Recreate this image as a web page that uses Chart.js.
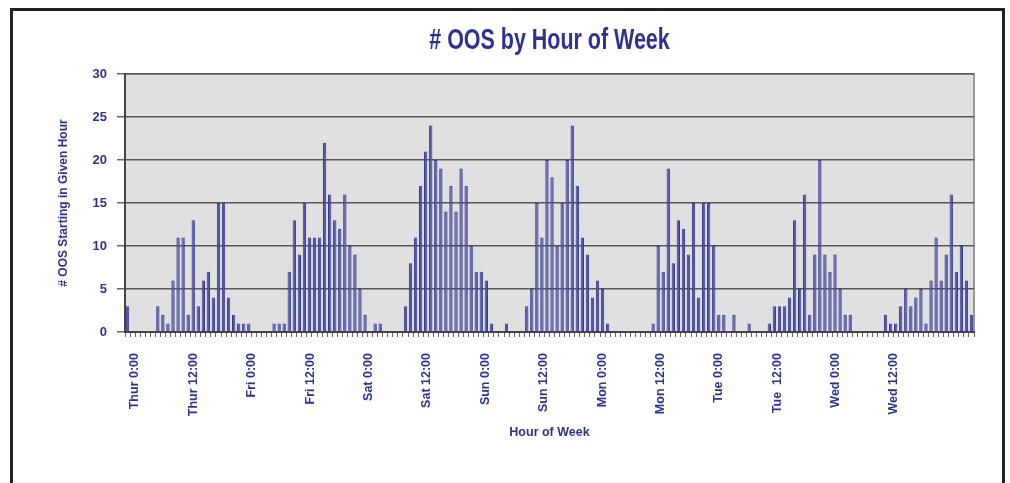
<!DOCTYPE html>
<html>
<head>
<meta charset="utf-8">
<title># OOS by Hour of Week</title>
<script src="https://cdn.jsdelivr.net/npm/chart.js@4.4.1/dist/chart.umd.min.js"></script>
<style>
    html, body { margin: 0; padding: 0; background: #ffffff; }
    #wrap { position: relative; width: 1010px; height: 483px; overflow: hidden; }
    #frame {
        position: absolute; left: 10px; top: 8px; width: 995px; height: 500px;
        border: 3px solid #222222; box-sizing: border-box;
    }
    #myChart { position: absolute; left: 0; top: 0; }
</style>
</head>
<body>
<div id="wrap">
    <div id="frame"></div>
    <canvas id="myChart" width="1010" height="483"></canvas>
</div>
<script>
// one bar per hour, the week starts Thursday 0:00
var days = ['Thur', 'Fri', 'Sat', 'Sun', 'Mon', 'Tue', 'Wed'];

var thu = [3, 0, 0, 0, 0, 0, 3, 2, 1, 6, 11, 11, 2, 13, 3, 6, 7, 4, 15, 15, 4, 2, 1, 1];
var fri = [1, 0, 0, 0, 0, 1, 1, 1, 7, 13, 9, 15, 11, 11, 11, 22, 16, 13, 12, 16, 10, 9, 5, 2];
var sat = [0, 1, 1, 0, 0, 0, 0, 3, 8, 11, 17, 21, 24, 20, 19, 14, 17, 14, 19, 17, 10, 7, 7, 6];
var sun = [1, 0, 0, 1, 0, 0, 0, 3, 5, 15, 11, 20, 18, 10, 15, 20, 24, 17, 11, 9, 4, 6, 5, 1];
var mon = [0, 0, 0, 0, 0, 0, 0, 0, 1, 10, 7, 19, 8, 13, 12, 9, 15, 4, 15, 15, 10, 2, 2, 0];
var tue = [2, 0, 0, 1, 0, 0, 0, 1, 3, 3, 3, 4, 13, 5, 16, 2, 9, 20, 9, 7, 9, 5, 2, 2];
var wed = [0, 0, 0, 0, 0, 0, 2, 1, 1, 3, 5, 3, 4, 5, 1, 6, 11, 6, 9, 16, 7, 10, 6, 2];

var tickLabels = ['Thur 0:00', 'Thur 12:00', 'Fri 0:00', 'Fri 12:00', 'Sat 0:00', 'Sat 12:00',
    'Sun 0:00', 'Sun 12:00', 'Mon 0:00', 'Mon 12:00', 'Tue 0:00', 'Tue  12:00', 'Wed 0:00', 'Wed 12:00'];

var chartTitle = '# OOS by Hour of Week';

var counts = [].concat(thu, fri, sat, sun, mon, tue, wed);
var hours = [];
days.forEach(function (d) {
    for (var h = 0; h < 24; h++) hours.push(d + ' ' + h + ':00');
});

var navy = '#2e3192';
var fontFamily = "'Liberation Sans', Arial, sans-serif";

// gray panel behind the bars
const plotBackground = {
    id: 'plotBackground',
    beforeDraw: function (chart) {
        const a = chart.chartArea;
        const ctx = chart.ctx;
        ctx.save();
        ctx.fillStyle = '#e0e0e0';
        ctx.fillRect(a.left, a.top, a.right - a.left, a.bottom - a.top);
        ctx.strokeStyle = '#9a9a9a';
        ctx.lineWidth = 2;
        ctx.beginPath();
        ctx.moveTo(a.left, a.top);
        ctx.lineTo(a.right, a.top);
        ctx.lineTo(a.right, a.bottom);
        ctx.stroke();
        ctx.restore();
    }
};

// narrow bold heading centred over the plot
const condensedTitle = {
    id: 'condensedTitle',
    afterDraw: function (chart) {
        const a = chart.chartArea;
        const ctx = chart.ctx;
        ctx.save();
        ctx.translate((a.left + a.right) / 2, 41);
        ctx.scale(0.74, 1);
        ctx.font = 'bold 29px ' + fontFamily;
        ctx.fillStyle = navy;
        ctx.textAlign = 'center';
        ctx.textBaseline = 'middle';
        ctx.fillText(chartTitle, 0, 0);
        ctx.restore();
    }
};

const data = {
    labels: hours,
    datasets: [{
        label: '# OOS',
        data: counts,
        backgroundColor: '#5357aa',
        borderColor: '#353990',
        borderWidth: 1,
        barPercentage: 0.66,
        categoryPercentage: 1.0
    }]
};

const config = {
    type: 'bar',
    data: data,
    plugins: [plotBackground, condensedTitle],
    options: {
        responsive: false,
        animation: false,
        layout: { padding: { left: 51, right: 36, top: 74, bottom: 40 } },
        plugins: {
            legend: { display: false },
            tooltip: { enabled: false },
            title: { display: false }
        },
        scales: {
            x: {
                position: 'bottom',
                offset: true,
                grid: { display: true, drawOnChartArea: false, tickLength: 5, color: '#666666', offset: true },
                border: { display: true, color: '#444444', width: 2 },
                ticks: { display: false, autoSkip: false }
            },
            // time-of-day labels along the bottom
            x2: {
                type: 'linear',
                position: 'bottom',
                offset: false,
                min: -2.06,
                max: 172.45,
                grid: { display: false, drawTicks: false, offset: false },
                border: { display: false },
                afterBuildTicks: function (scale) {
                    scale.ticks = tickLabels.map(function (t, i) { return { value: i * 12 }; });
                },
                afterFit: function (scale) { scale.height = 106; },
                ticks: {
                    autoSkip: false,
                    minRotation: 90,
                    maxRotation: 90,
                    padding: 16,
                    color: navy,
                    font: { family: fontFamily, weight: 'bold', size: 12.5 },
                    callback: function (value) { return tickLabels[value / 12]; }
                },
                title: {
                    display: true,
                    text: 'Hour of Week',
                    color: navy,
                    font: { family: fontFamily, weight: 'bold', size: 12.5 },
                    padding: { top: 0, bottom: 3 }
                }
            },
            y: {
                min: 0,
                max: 30,
                afterFit: function (scale) { scale.width = 74; },
                ticks: {
                    stepSize: 5,
                    padding: 10,
                    color: navy,
                    font: { family: fontFamily, weight: 'bold', size: 13 }
                },
                grid: { color: '#585858', lineWidth: 1.5, tickLength: 8, tickColor: '#666666' },
                border: { display: true, color: '#444444', width: 2 },
                title: {
                    display: true,
                    text: '# OOS Starting in Given Hour',
                    color: navy,
                    font: { family: fontFamily, weight: 'bold', size: 12 },
                    padding: { top: 5, bottom: 0 }
                }
            }
        }
    }
};

const myChart = new Chart(
    document.getElementById('myChart'),
    config
);
</script>
</body>
</html>
